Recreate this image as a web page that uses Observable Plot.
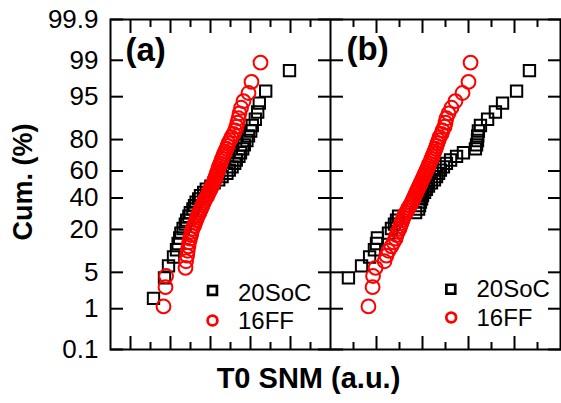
<!DOCTYPE html>
<html>
<head>
<meta charset="utf-8">
<script src="https://cdn.jsdelivr.net/npm/d3@7"></script>
<script src="https://cdn.jsdelivr.net/npm/@observablehq/plot@0.6"></script>
<style>
  html, body { margin: 0; padding: 0; background: #fff; }
  #chart { position: relative; width: 561px; height: 403px; overflow: hidden;
           font-family: "Liberation Sans", Arial, Helvetica, sans-serif; }
  #chart svg { position: absolute; top: 0; }
  #xlabel { position: absolute; left: 0; width: 617px; top: 364px; text-align: center;
            font-size: 29px; line-height: 29px; font-weight: bold; color: #000; white-space: nowrap; }
</style>
</head>
<body>
<div id="chart"></div>
<script>
// ---------- data ----------
const seriesNames = ["20SoC", "16FF"];
const panelLabels = ["(a)", "(b)"];
const xAxisLabel = "T0 SNM (a.u.)";
const yAxisLabel = "Cum. (%)";
const yTickValues = [0.1, 1, 5, 20, 40, 60, 80, 95, 99, 99.9];
const yTickLabels = ["0.1", "1", "5", "20", "40", "60", "80", "95", "99", "99.9"];

// T0 SNM samples (a.u.) — panel (a)
const a_20SoC = [2.15, 2.7, 2.9, 3.15, 3.3, 3.38, 3.46, 3.52, 3.63, 3.74, 3.81, 3.92, 3.99, 4.12, 4.2, 4.28, 4.41, 4.5, 4.66, 4.79, 5.02, 5.18, 5.41, 5.58, 5.82, 5.94, 6.08, 6.21, 6.29, 6.42, 6.5, 6.61, 6.69, 6.82, 6.9, 7.01, 7.09, 7.24, 7.36, 7.44, 7.76, 8.95];
const a_16FF = [2.65, 2.75, 2.78, 3.75, 3.78, 3.83, 3.86, 3.9, 3.93, 3.98, 4.03, 4.06, 4.1, 4.18, 4.23, 4.28, 4.33, 4.38, 4.45, 4.5, 4.55, 4.6, 4.65, 4.7, 4.75, 4.83, 4.88, 4.93, 4.98, 5.03, 5.08, 5.13, 5.18, 5.23, 5.25, 5.3, 5.33, 5.38, 5.4, 5.45, 5.5, 5.53, 5.58, 5.63, 5.68, 5.73, 5.8, 5.85, 5.9, 5.98, 6.05, 6.15, 6.23, 6.3, 6.35, 6.4, 6.45, 6.53, 6.65, 6.9, 7.05, 7.5];
// T0 SNM samples (a.u.) — panel (b) (first 20SoC sample lies left of the panel and is clipped)
const b_20SoC = [-0.3, 0.78, 1.35, 1.7, 1.91, 2.0, 2.04, 2.52, 2.65, 2.78, 2.87, 2.96, 3.7, 3.83, 3.87, 3.91, 3.96, 4.0, 4.09, 4.17, 4.26, 4.39, 4.52, 4.61, 4.7, 4.78, 4.91, 5.04, 5.22, 5.48, 5.78, 6.3, 6.35, 6.39, 6.4, 6.43, 6.52, 6.83, 7.17, 7.48, 8.09, 8.65];
const b_16FF = [1.65, 1.83, 1.85, 1.96, 2.35, 2.43, 2.52, 2.65, 2.74, 2.83, 2.87, 2.93, 3.0, 3.04, 3.09, 3.13, 3.17, 3.22, 3.28, 3.35, 3.39, 3.46, 3.52, 3.57, 3.61, 3.65, 3.7, 3.74, 3.78, 3.83, 3.87, 3.91, 3.96, 4.0, 4.04, 4.09, 4.13, 4.17, 4.22, 4.26, 4.3, 4.35, 4.39, 4.43, 4.48, 4.52, 4.57, 4.61, 4.65, 4.7, 4.74, 4.83, 4.87, 4.96, 5.0, 5.04, 5.13, 5.26, 5.43, 5.74, 6.0, 6.09];

// ---------- helpers ----------
const FONT = '"Liberation Sans", Arial, Helvetica, sans-serif';

// inverse standard normal CDF (Acklam) for the probability axis
function probit(p) {
  const a = [-3.969683028665376e+01, 2.209460984245205e+02, -2.759285104469687e+02, 1.383577518672690e+02, -3.066479806614716e+01, 2.506628277459239e+00];
  const b = [-5.447609879822406e+01, 1.615858368580409e+02, -1.556989798598866e+02, 6.680131188771972e+01, -1.328068155288572e+01];
  const c = [-7.784894002430293e-03, -3.223964580411365e-01, -2.400758277161838e+00, -2.549732539343734e+00, 4.374664141464968e+00, 2.938163982698783e+00];
  const d = [7.784695709041462e-03, 3.224671290700398e-01, 2.445134137142996e+00, 3.754408661907416e+00];
  const pl = 0.02425, ph = 1 - pl;
  let q, r;
  if (p < pl) {
    q = Math.sqrt(-2 * Math.log(p));
    return (((((c[0]*q+c[1])*q+c[2])*q+c[3])*q+c[4])*q+c[5]) / ((((d[0]*q+d[1])*q+d[2])*q+d[3])*q+1);
  }
  if (p > ph) {
    q = Math.sqrt(-2 * Math.log(1 - p));
    return -(((((c[0]*q+c[1])*q+c[2])*q+c[3])*q+c[4])*q+c[5]) / ((((d[0]*q+d[1])*q+d[2])*q+d[3])*q+1);
  }
  q = p - 0.5; r = q * q;
  return (((((a[0]*r+a[1])*r+a[2])*r+a[3])*r+a[4])*r+a[5])*q / (((((b[0]*r+b[1])*r+b[2])*r+b[3])*r+b[4])*r+1);
}

// empirical cumulative percentage (median rank) of each sample
function cumRows(values, series) {
  const s = values.slice().sort((u, v) => u - v);
  const n = s.length;
  return s.map((v, i) => ({series, x: v, p: 100 * (i + 1 - 0.3) / (n + 0.4)}));
}

const zTicks = yTickValues.map(v => probit(v / 100));

function makePanel(cfg) {
  const soc = cumRows(cfg.soc, seriesNames[0]);
  const ff = cumRows(cfg.ff, seriesNames[1]);
  const tk = {label: null, tickFormat: () => "", strokeWidth: 2};
  const marks = [
    Plot.axisX(cfg.majors, {anchor: "bottom", tickSize: -13, ...tk}),
    Plot.axisX(cfg.minors, {anchor: "bottom", tickSize: -7, ...tk}),
    Plot.axisX(cfg.majors, {anchor: "top", tickSize: -13, ...tk}),
    Plot.axisX(cfg.minors, {anchor: "top", tickSize: -7, ...tk}),
    Plot.axisY(zTicks, {anchor: "left", tickSize: -13, ...tk}),
    Plot.axisY(zTicks, {anchor: "right", tickSize: -13, ...tk})
  ];
  if (cfg.yLabels) {
    marks.push(Plot.axisY(zTicks, {anchor: "left", tickSize: 0, tickPadding: 12, label: null, fontSize: 26,
      tickFormat: z => yTickLabels[zTicks.indexOf(z)]}));
    marks.push(Plot.text([yAxisLabel], {frameAnchor: "left", dx: -79, dy: -2.5, rotate: -90,
      lineAnchor: "bottom", textAnchor: "middle", fontSize: 27, fontWeight: "bold", fill: "black"}));
  }
  marks.push(
    Plot.frame({strokeWidth: 2, stroke: "black"}),
    Plot.dot(soc, {x: "x", y: d => probit(d.p / 100), symbol: "square", r: 6.4,
      stroke: "black", strokeWidth: 2, fill: "none", clip: true}),
    Plot.dot(ff, {x: "x", y: d => probit(d.p / 100), symbol: "circle", r: 6.9,
      stroke: "#ff0000", strokeWidth: 2, fill: "none", clip: true}),
    // panel label
    Plot.text([cfg.label], {frameAnchor: "top-left", dx: cfg.lab[0], dy: cfg.lab[1], textAnchor: "start",
      lineAnchor: "bottom", fontSize: 33, fontWeight: "bold", fill: "black"}),
    // legend
    Plot.dot([seriesNames[0]], {frameAnchor: "bottom-left", dx: cfg.leg.sx, dy: cfg.leg.sy, symbol: "square",
      r: 5, stroke: "black", strokeWidth: 2.7, fill: "none"}),
    Plot.dot([seriesNames[1]], {frameAnchor: "bottom-left", dx: cfg.leg.cx, dy: cfg.leg.cy, symbol: "circle",
      r: 4.9, stroke: "#ff0000", strokeWidth: 2.7, fill: "none"}),
    Plot.text([seriesNames[0]], {frameAnchor: "bottom-left", dx: cfg.leg.tx, dy: cfg.leg.t1, textAnchor: "start",
      lineAnchor: "bottom", fontSize: 24, fill: "black"}),
    Plot.text([seriesNames[1]], {frameAnchor: "bottom-left", dx: cfg.leg.tx, dy: cfg.leg.t2, textAnchor: "start",
      lineAnchor: "bottom", fontSize: 24, fill: "black"})
  );
  const svg = Plot.plot({
    width: cfg.width, height: 403,
    marginLeft: cfg.marginLeft, marginRight: cfg.marginRight, marginTop: 19, marginBottom: 54,
    style: {fontFamily: FONT, color: "black", background: "white"},
    x: {domain: [0, cfg.xMax]},
    y: {domain: [probit(0.001), probit(0.999)]},
    marks
  });
  svg.style.left = cfg.left + "px";
  return svg;
}

const chart = document.getElementById("chart");
chart.appendChild(makePanel({
  label: panelLabels[0], soc: a_20SoC, ff: a_16FF, xMax: 11,
  majors: [1, 3, 5, 7, 9], minors: [2, 4, 6, 8, 10],
  width: 330, marginLeft: 110, marginRight: 0, left: 0, yLabels: true,
  lab: [15, 41.5],
  leg: {sx: 102, sy: -59, cx: 102, cy: -29, tx: 127.5, t1: -49, t2: -21}
}));
chart.appendChild(makePanel({
  label: panelLabels[1], soc: b_20SoC, ff: b_16FF, xMax: 10,
  majors: [2, 4, 6, 8], minors: [1, 3, 5, 7, 9],
  width: 231, marginLeft: 0, marginRight: 1, left: 330, yLabels: false,
  lab: [16, 40.5],
  leg: {sx: 120.3, sy: -60.3, cx: 120.7, cy: -32, tx: 146, t1: -52.3, t2: -23.3}
}));
const xl = document.createElement("div");
xl.id = "xlabel";
xl.textContent = xAxisLabel;
chart.appendChild(xl);
</script>
</body>
</html>
